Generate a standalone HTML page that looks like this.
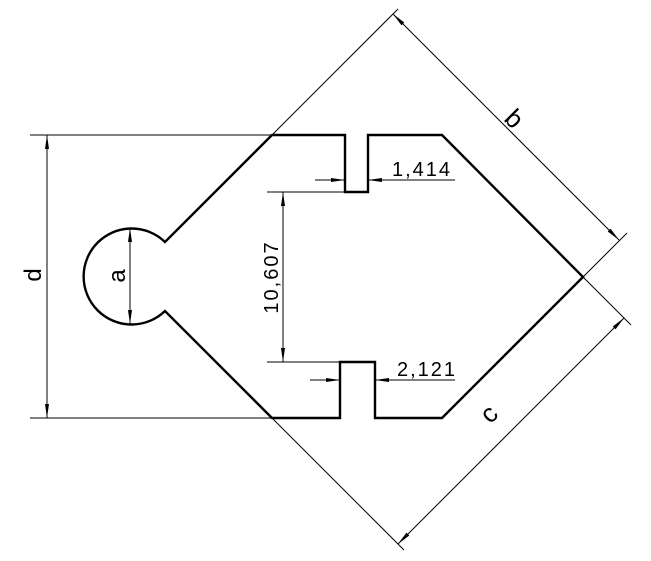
<!DOCTYPE html>
<html><head><style>html,body{margin:0;padding:0;background:#fff;}svg{display:block;}</style></head>
<body>
<svg width="651" height="561" viewBox="0 0 651 561" xmlns="http://www.w3.org/2000/svg">
<defs>
<marker id="ar" markerWidth="14" markerHeight="6" refX="14" refY="3" orient="auto" markerUnits="userSpaceOnUse">
<path d="M0,1 L14,3 L0,5 Z" fill="#000"/>
</marker>
</defs>
<g fill="none" stroke="#000">
<!-- outline -->
<path stroke-width="2.4" d="M272,135 L345,135 L345,192 L368,192 L368,135 L442,135 L583,277 L442,418 L375,418 L375,362 L340,362 L340,418 L272,418 L165,311 A48,48 0 1 1 165,242 Z"/>
<!-- extension lines -->
<g stroke-width="1">
<line x1="30" y1="135" x2="272" y2="135"/>
<line x1="30" y1="418" x2="272" y2="418"/>
<line x1="272" y1="135" x2="398" y2="9"/>
<line x1="272" y1="418" x2="404" y2="550"/>
<line x1="583" y1="277" x2="627" y2="233"/>
<line x1="583" y1="277" x2="631" y2="325"/>
<line x1="267" y1="192" x2="345" y2="192"/>
<line x1="267" y1="362" x2="340" y2="362"/>
<line x1="315" y1="180" x2="345" y2="180"/>
<line x1="368" y1="180" x2="455" y2="180"/>
<line x1="310" y1="380" x2="340" y2="380"/>
<line x1="375" y1="380" x2="455" y2="380"/>
</g>
<!-- dimension lines with arrows -->
<g stroke-width="1" marker-start="url(#ar)" marker-end="url(#ar)">
<line x1="47" y1="276" x2="47" y2="135" marker-start="none"/>
<line x1="47" y1="276" x2="47" y2="418" marker-start="none"/>
<line x1="130" y1="276" x2="130" y2="228" marker-start="none"/>
<line x1="130" y1="276" x2="130" y2="324" marker-start="none"/>
<line x1="283" y1="277" x2="283" y2="192" marker-start="none"/>
<line x1="283" y1="277" x2="283" y2="362" marker-start="none"/>
<line x1="506" y1="127" x2="393" y2="14" marker-start="none"/>
<line x1="506" y1="127" x2="619" y2="240" marker-start="none"/>
<line x1="511" y1="431" x2="398" y2="544" marker-start="none"/>
<line x1="511" y1="431" x2="624" y2="318" marker-start="none"/>
</g>
<g stroke-width="1">
<line x1="315" y1="180" x2="345" y2="180" marker-end="url(#ar)"/>
<line x1="400" y1="180" x2="368" y2="180" marker-end="url(#ar)"/>
<line x1="310" y1="380" x2="340" y2="380" marker-end="url(#ar)"/>
<line x1="405" y1="380" x2="375" y2="380" marker-end="url(#ar)"/>
</g>
</g>
<g font-family="Liberation Sans, sans-serif" font-size="20" fill="#000">
<text x="392" y="176" letter-spacing="2">1,414</text>
<text x="397" y="376" letter-spacing="2">2,121</text>
<text transform="translate(278,277) rotate(-90)" text-anchor="middle" letter-spacing="2">10,607</text>
<text transform="translate(41,275) rotate(-90)" text-anchor="middle" font-size="24">d</text>
<text transform="translate(125,276) rotate(-90)" text-anchor="middle" font-size="24">a</text>
<text transform="translate(508,125) rotate(45)" text-anchor="middle" font-size="26">b</text>
<text transform="translate(495,420) rotate(-45)" text-anchor="middle" font-size="26">c</text>
</g>
</svg>
</body></html>
